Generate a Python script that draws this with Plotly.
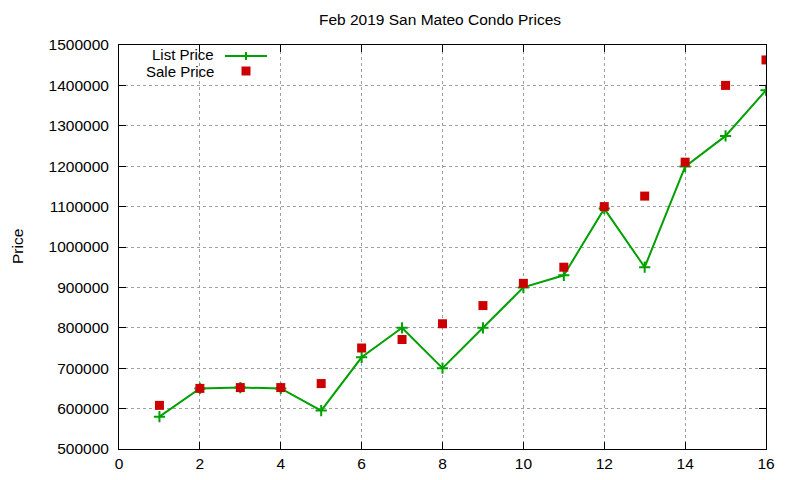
import plotly.graph_objects as go

# data
units = list(range(1, 17))
list_price = [580000, 650000, 652000, 650000, 595000, 727000, 800000, 700000,
              800000, 900000, 930000, 1095000, 950000, 1199000, 1275000, 1388000]
sale_price = [608000, 650000, 652000, 652000, 662000, 750000, 771000, 810000,
              855000, 910000, 950000, 1100000, 1126000, 1210000, 1400000, 1463000]

GREEN = "#00a000"
RED = "#cc0000"
FONT = "Liberation Sans, Arial, sans-serif"

# page puts the figure 8px in from the top-left corner
OFF = 8
L, T, R, B = 119 - OFF, 45 - OFF, 800 - 766 + OFF, 480 - 449 + OFF

fig = go.Figure()

fig.add_trace(go.Scatter(
    x=units, y=list_price, name="List Price", mode="lines+markers",
    line=dict(color=GREEN, width=2),
    marker=dict(symbol="cross-thin", size=8, line=dict(color=GREEN, width=2)),
))
fig.add_trace(go.Scatter(
    x=units, y=sale_price, name="Sale Price", mode="markers",
    marker=dict(symbol="square", size=9, color=RED),
))

axis_style = dict(
    showline=True, linecolor="black", linewidth=1, mirror="ticks",
    ticks="inside", ticklen=7, tickcolor="black", automargin=False,
    showgrid=True, gridcolor="#a0a0a0", griddash="dot", gridwidth=1,
    zeroline=False, tickfont=dict(family=FONT, size=15.5, color="black"),
)

fig.update_xaxes(range=[0, 16], dtick=2, **axis_style)
fig.update_yaxes(range=[500000, 1500000], dtick=100000, tickformat="d",
                 ticklabelstandoff=6, **axis_style)

fig.update_layout(
    width=800, height=480,
    margin=dict(l=L, r=R, t=T, b=B),
    paper_bgcolor="white", plot_bgcolor="white",
    showlegend=False,
    font=dict(family=FONT, size=15.5, color="black"),
    title=dict(text="Feb 2019 San Mateo Condo Prices", x=(440 - OFF) / 800, xanchor="center",
               y=1 - (20 - OFF) / 480, yanchor="middle", font=dict(family=FONT, size=15.5)),
)

W, H = 800 - L - R, 480 - T - B

def px(xp, yp):
    # reference pixel -> paper fraction
    return (xp - OFF - L) / W, (480 - (yp - OFF) - B) / H

# y axis label, placed like gnuplot's
lx, ly = px(17, 247)
fig.add_annotation(x=lx, y=ly, xref="paper", yref="paper", text="Price", textangle=-90,
                   showarrow=False, xanchor="center", yanchor="middle", borderpad=0,
                   font=dict(family=FONT, size=15.5, color="black"))

# gnuplot-style key: text to the left of the sample
for label, ypos in [("List Price", 54), ("Sale Price", 71.5)]:
    ax, ay = px(216, ypos)
    fig.add_annotation(x=ax, y=ay, xref="paper", yref="paper", text=label,
                       showarrow=False, xanchor="right", yanchor="middle",
                       font=dict(family=FONT, size=15, color="black"))

x0, y0 = px(225, 56)
x1, _ = px(267, 56)
fig.add_shape(type="line", xref="paper", yref="paper", x0=x0, x1=x1, y0=y0, y1=y0,
              line=dict(color=GREEN, width=2))
cx, cy = px(246, 56)
fig.add_shape(type="line", xref="paper", yref="paper", x0=cx, x1=cx,
              y0=cy - 4 / H, y1=cy + 4 / H, line=dict(color=GREEN, width=2))
sx, sy = px(246, 71)
fig.add_shape(type="rect", xref="paper", yref="paper", x0=sx - 4.5 / W, x1=sx + 4.5 / W,
              y0=sy - 4.5 / H, y1=sy + 4.5 / H, fillcolor=RED, line=dict(width=0))

fig.write_html("out.html")
